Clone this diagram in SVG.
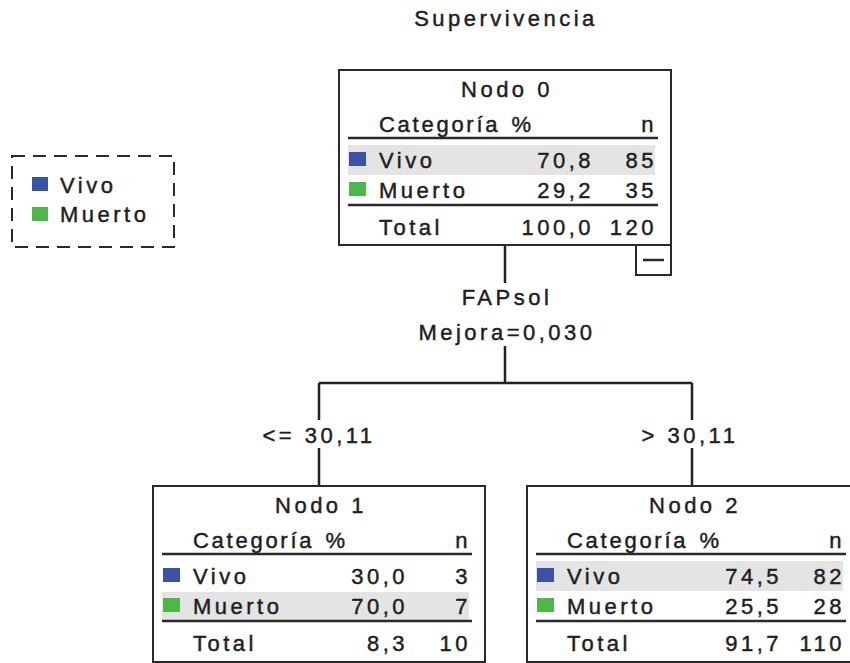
<svg xmlns="http://www.w3.org/2000/svg" width="850" height="663" viewBox="0 0 850 663">
  <style>
    text { font-family: "Liberation Sans", Arial, sans-serif; font-size: 22px; letter-spacing: 3.5px; fill: #1e1e1e; stroke: #1e1e1e; stroke-width: 0.45px; }
    .mid { text-anchor: middle; }
    .end { text-anchor: end; }
    .box { fill: #ffffff; stroke: #2a2a2a; stroke-width: 2; }
    .rule { stroke: #2a2a2a; stroke-width: 2.5; }
    .shade { fill: #e4e4e4; }
    .blue { fill: #3a53a8; }
    .green { fill: #4cb848; }
    .conn { stroke: #222222; stroke-width: 2.5; fill: none; }
  </style>

  <!-- title -->
  <text x="506" y="26" class="mid">Supervivencia</text>

  <!-- legend -->
  <g id="legend">
    <rect x="12" y="156" width="162" height="91" fill="none" stroke="#2a2a2a" stroke-width="2" stroke-dasharray="13,8"/>
    <rect x="32" y="177" width="16" height="14" class="blue"/>
    <text x="60" y="193">Vivo</text>
    <rect x="32" y="207" width="16" height="14" class="green"/>
    <text x="60" y="222">Muerto</text>
  </g>

  <!-- connectors -->
  <g id="connectors">
    <path class="conn" d="M505,245 V283 M505,346 V383 M319,383 H692 M319,383 V420 M692,383 V420 M319,448 V486 M692,448 V486"/>
    <text x="507" y="305" class="mid">FAPsol</text>
    <text x="507" y="340" class="mid">Mejora=0,030</text>
    <text x="319" y="443" class="mid">&lt;= 30,11</text>
    <text x="690" y="443" class="mid">&gt; 30,11</text>
  </g>

  <!-- Nodo 0 -->
  <g id="node0" transform="translate(339,70)">
    <rect x="0" y="0" width="332" height="175" class="box"/>
    <rect x="297" y="175" width="35" height="30" class="box"/>
    <line x1="304" y1="190" x2="325" y2="190" class="rule" stroke-width="2"/>
    <text x="168" y="27" class="mid">Nodo 0</text>
    <text x="40" y="62" textLength="122" lengthAdjust="spacing">Categoría</text>
    <text x="184" y="62" class="mid">%</text>
    <text x="318" y="62" class="end">n</text>
    <line x1="9" y1="68" x2="319" y2="68" class="rule"/>
    <rect x="9" y="75" width="307" height="30" class="shade"/>
    <rect x="10" y="82" width="17" height="14" class="blue"/>
    <text x="40" y="98">Vivo</text>
    <text x="255" y="98" class="end">70,8</text>
    <text x="318" y="98" class="end">85</text>
    <rect x="10" y="112" width="17" height="14" class="green"/>
    <text x="40" y="128">Muerto</text>
    <text x="255" y="128" class="end">29,2</text>
    <text x="318" y="128" class="end">35</text>
    <line x1="9" y1="135" x2="319" y2="135" class="rule"/>
    <text x="40" y="165">Total</text>
    <text x="255" y="165" class="end">100,0</text>
    <text x="318" y="165" class="end">120</text>
  </g>

  <!-- Nodo 1 -->
  <g id="node1" transform="translate(153,486)">
    <rect x="0" y="0" width="332" height="176" class="box"/>
    <text x="168" y="27" class="mid">Nodo 1</text>
    <text x="40" y="62" textLength="122" lengthAdjust="spacing">Categoría</text>
    <text x="184" y="62" class="mid">%</text>
    <text x="318" y="62" class="end">n</text>
    <line x1="9" y1="68" x2="319" y2="68" class="rule"/>
    <rect x="9" y="106" width="307" height="28" class="shade"/>
    <rect x="10" y="82" width="17" height="14" class="blue"/>
    <text x="40" y="98">Vivo</text>
    <text x="255" y="98" class="end">30,0</text>
    <text x="318" y="98" class="end">3</text>
    <rect x="10" y="112" width="17" height="14" class="green"/>
    <text x="40" y="128">Muerto</text>
    <text x="255" y="128" class="end">70,0</text>
    <text x="318" y="128" class="end">7</text>
    <line x1="9" y1="135" x2="319" y2="135" class="rule"/>
    <text x="40" y="165">Total</text>
    <text x="255" y="165" class="end">8,3</text>
    <text x="318" y="165" class="end">10</text>
  </g>

  <!-- Nodo 2 -->
  <g id="node2" transform="translate(527,486)">
    <rect x="0" y="0" width="332" height="176" class="box"/>
    <text x="168" y="27" class="mid">Nodo 2</text>
    <text x="40" y="62" textLength="122" lengthAdjust="spacing">Categoría</text>
    <text x="184" y="62" class="mid">%</text>
    <text x="318" y="62" class="end">n</text>
    <line x1="9" y1="68" x2="319" y2="68" class="rule"/>
    <rect x="9" y="75" width="307" height="30" class="shade"/>
    <rect x="10" y="82" width="17" height="14" class="blue"/>
    <text x="40" y="98">Vivo</text>
    <text x="255" y="98" class="end">74,5</text>
    <text x="318" y="98" class="end">82</text>
    <rect x="10" y="112" width="17" height="14" class="green"/>
    <text x="40" y="128">Muerto</text>
    <text x="255" y="128" class="end">25,5</text>
    <text x="318" y="128" class="end">28</text>
    <line x1="9" y1="135" x2="319" y2="135" class="rule"/>
    <text x="40" y="165">Total</text>
    <text x="255" y="165" class="end">91,7</text>
    <text x="318" y="165" class="end">110</text>
  </g>
</svg>
